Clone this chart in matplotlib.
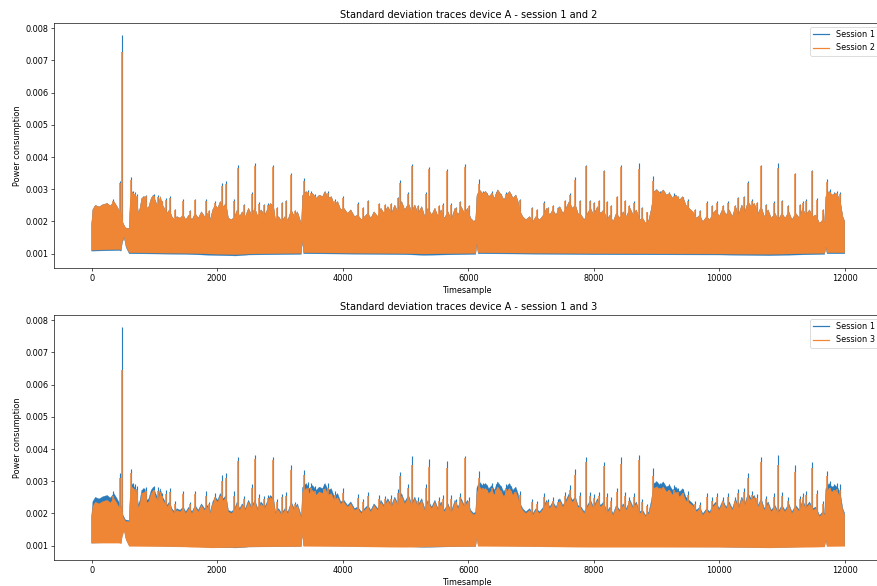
import numpy as np
import matplotlib
matplotlib.use("Agg")
import matplotlib.pyplot as plt

# ---------------- data ----------------
TITLES = ["Standard deviation traces device A - session 1 and 2",
          "Standard deviation traces device A - session 1 and 3"]
LABELS = [["Session 1", "Session 2"], ["Session 1", "Session 3"]]
XTICKS = [0, 2000, 4000, 6000, 8000, 10000, 12000]
YTICKS = [0.001, 0.002, 0.003, 0.004, 0.005, 0.006, 0.007, 0.008]

# jagged upper profile of the dense trace (timesample, value)
PROF_T = [0, 20, 60, 120, 180, 250, 300, 355, 400, 430,
          470, 500, 540, 600, 615, 640, 680, 720, 745, 770,
          800, 850, 880, 910, 950, 985, 1020, 1060, 1095, 1130,
          1160, 1200, 1240, 1280, 1320, 1360, 1410, 1460, 1500, 1550,
          1600, 1650, 1700, 1750, 1800, 1850, 1890, 1930, 1970, 2010,
          2050, 2100, 2140, 2180, 2230, 2280, 2320, 2360, 2400, 2450,
          2500, 2550, 2600, 2650, 2700, 2760, 2810, 2850, 2900, 2930,
          2980, 3030, 3080, 3130, 3180, 3230, 3280, 3330, 3345, 3360,
          3420, 3470, 3520, 3580, 3630, 3680, 3720, 3770, 3820, 3870,
          3920, 3970, 4020, 4080, 4130, 4190, 4240, 4300, 4350, 4400,
          4450, 4500, 4560, 4610, 4660, 4720, 4780, 4830, 4880, 4940,
          4990, 5050, 5100, 5150, 5200, 5260, 5310, 5360, 5420, 5470,
          5520, 5570, 5620, 5680, 5730, 5790, 5840, 5890, 5940, 5990,
          6040, 6090, 6120, 6140, 6180, 6230, 6280, 6330, 6380, 6420,
          6470, 6530, 6570, 6610, 6660, 6715, 6760, 6795, 6830, 6870,
          6920, 6980, 7030, 7080, 7140, 7200, 7250, 7300, 7350, 7400,
          7460, 7510, 7560, 7610, 7660, 7710, 7750, 7800, 7850, 7900,
          7950, 8000, 8060, 8110, 8160, 8210, 8260, 8310, 8360, 8420,
          8470, 8520, 8580, 8630, 8680, 8730, 8780, 8830, 8880, 8920,
          8960, 9010, 9060, 9110, 9160, 9210, 9260, 9310, 9370, 9420,
          9470, 9520, 9580, 9640, 9690, 9740, 9800, 9850, 9900, 9950,
          10000, 10060, 10110, 10160, 10210, 10260, 10310, 10360, 10410, 10460,
          10510, 10560, 10620, 10670, 10720, 10780, 10830, 10890, 10940, 11000,
          11050, 11110, 11160, 11220, 11280, 11330, 11380, 11440, 11490, 11540,
          11600, 11650, 11680, 11700, 11750, 11800, 11850, 11900, 11940, 11970,
          12000]
S1_PROF = [.00190, .00237, .00250, .00245, .00252, .00256, .00248, .00262, .00248, .00237,
           .00225, .00195, .00180, .00178, .00260, .00293, .00282, .00272, .00225, .00240,
           .00272, .00277, .00241, .00245, .00272, .00282, .00262, .00246, .00277, .00251,
           .00241, .00225, .00236, .00215, .00205, .00215, .00210, .00220, .00205, .00220,
           .00205, .00225, .00210, .00230, .00215, .00225, .00205, .00236, .00251, .00241,
           .00262, .00246, .00256, .00210, .00205, .00215, .00236, .00215, .00230, .00215,
           .00241, .00220, .00241, .00215, .00236, .00220, .00241, .00256, .00246, .00205,
           .00215, .00200, .00215, .00205, .00236, .00215, .00230, .00200, .00190, .00280,
           .00293, .00277, .00287, .00272, .00282, .00277, .00293, .00272, .00277, .00251,
           .00262, .00236, .00241, .00225, .00236, .00215, .00220, .00205, .00215, .00225,
           .00210, .00230, .00215, .00241, .00225, .00246, .00225, .00251, .00230, .00262,
           .00236, .00256, .00230, .00251, .00225, .00246, .00215, .00241, .00220, .00241,
           .00215, .00236, .00210, .00230, .00205, .00241, .00220, .00246, .00225, .00241,
           .00210, .00200, .00205, .00280, .00298, .00287, .00293, .00277, .00287, .00272,
           .00298, .00282, .00267, .00282, .00293, .00272, .00282, .00262, .00230, .00215,
           .00205, .00215, .00199, .00215, .00205, .00220, .00241, .00220, .00236, .00220,
           .00246, .00225, .00241, .00262, .00241, .00251, .00225, .00220, .00205, .00225,
           .00241, .00220, .00246, .00225, .00236, .00205, .00220, .00199, .00225, .00210,
           .00230, .00215, .00241, .00220, .00236, .00205, .00210, .00194, .00205, .00240,
           .00293, .00298, .00287, .00298, .00282, .00287, .00272, .00282, .00267, .00277,
           .00251, .00241, .00230, .00210, .00220, .00199, .00215, .00205, .00225, .00236,
           .00215, .00241, .00220, .00236, .00215, .00246, .00220, .00251, .00230, .00262,
           .00246, .00256, .00225, .00246, .00215, .00236, .00210, .00225, .00205, .00225,
           .00210, .00230, .00205, .00225, .00210, .00241, .00220, .00236, .00215, .00220,
           .00194, .00205, .00200, .00277, .00293, .00282, .00287, .00277, .00251, .00215,
           .00200]
S2_PROF = S1_PROF  # session 2 follows session 1 at this scale
S3_PROF = [.00188, .00222, .00235, .00230, .00237, .00241, .00233, .00247, .00233, .00222,
           .00215, .00190, .00176, .00174, .00250, .00283, .00272, .00262, .00218, .00230,
           .00262, .00267, .00233, .00236, .00262, .00272, .00252, .00238, .00267, .00243,
           .00235, .00220, .00230, .00210, .00200, .00210, .00205, .00215, .00200, .00215,
           .00200, .00220, .00205, .00225, .00210, .00220, .00200, .00230, .00245, .00235,
           .00255, .00240, .00250, .00205, .00200, .00210, .00230, .00210, .00225, .00210,
           .00235, .00215, .00235, .00210, .00230, .00215, .00235, .00250, .00240, .00200,
           .00210, .00195, .00210, .00200, .00230, .00210, .00225, .00195, .00186, .00265,
           .00278, .00262, .00272, .00257, .00267, .00262, .00278, .00257, .00262, .00240,
           .00250, .00230, .00235, .00220, .00230, .00210, .00215, .00200, .00210, .00220,
           .00205, .00225, .00210, .00235, .00220, .00240, .00220, .00245, .00225, .00255,
           .00230, .00250, .00225, .00245, .00220, .00240, .00210, .00235, .00215, .00235,
           .00210, .00230, .00205, .00225, .00200, .00235, .00215, .00240, .00220, .00235,
           .00205, .00195, .00200, .00265, .00283, .00272, .00278, .00262, .00272, .00257,
           .00283, .00267, .00252, .00267, .00278, .00257, .00267, .00250, .00224, .00210,
           .00200, .00210, .00194, .00210, .00200, .00215, .00235, .00215, .00230, .00215,
           .00240, .00220, .00235, .00255, .00235, .00245, .00220, .00215, .00200, .00220,
           .00235, .00215, .00240, .00220, .00230, .00200, .00215, .00194, .00220, .00205,
           .00225, .00210, .00235, .00215, .00230, .00200, .00205, .00190, .00200, .00230,
           .00278, .00283, .00272, .00283, .00267, .00272, .00257, .00267, .00252, .00262,
           .00240, .00233, .00224, .00205, .00215, .00194, .00210, .00200, .00220, .00230,
           .00210, .00235, .00215, .00230, .00210, .00240, .00215, .00245, .00225, .00255,
           .00240, .00250, .00220, .00240, .00210, .00230, .00205, .00220, .00200, .00220,
           .00205, .00225, .00200, .00220, .00205, .00235, .00215, .00230, .00210, .00215,
           .00190, .00200, .00195, .00262, .00278, .00267, .00272, .00262, .00240, .00210,
           .00195]

# lower edge of the trace (timesample, value)
LOW_T = [0, 440, 470, 490, 520, 550, 600, 1500, 1900, 2300,
         2500, 3340, 3360, 3380, 5000, 5300, 6120, 6140, 6160, 8000,
         10000, 10800, 11680, 11700, 11720, 12000]
S1_LOW = [0.00108, 0.00110, 0.00108, 0.00135, 0.00150, 0.00120, 0.00100, 0.00098, 0.00095, 0.00093,
          0.00096, 0.00098, 0.00140, 0.00100, 0.00097, 0.00095, 0.00098, 0.00130, 0.00100, 0.00097,
          0.00096, 0.00094, 0.00098, 0.00120, 0.00100, 0.00100]
S2_LOW = [0.00111, 0.00113, 0.00111, 0.00138, 0.00152, 0.00123, 0.00103, 0.00101, 0.00099, 0.00097,
          0.00099, 0.00101, 0.00142, 0.00103, 0.00100, 0.00099, 0.00101, 0.00132, 0.00103, 0.00100,
          0.00099, 0.00098, 0.00101, 0.00122, 0.00103, 0.00103]
S3_LOW = [0.00108, 0.00108, 0.00106, 0.00130, 0.00145, 0.00118, 0.00098, 0.00096, 0.00093, 0.00094,
          0.00096, 0.00097, 0.00135, 0.00098, 0.00095, 0.00096, 0.00097, 0.00125, 0.00098, 0.00095,
          0.00095, 0.00093, 0.00096, 0.00118, 0.00097, 0.00098]

# individual spikes rising above the dense part
SPIKE_T = [345, 450, 478, 627, 660, 690, 720, 820, 870, 1000,
           1050, 1120, 1180, 1250, 1330, 1450, 1570, 1640, 1815, 1870,
           1960, 2070, 2140, 2268, 2326, 2420, 2550, 2603, 2665, 2740,
           2815, 2895, 2950, 3030, 3100, 3170, 3240, 3390, 3440, 3500,
           3560, 3640, 3700, 3760, 3880, 4010, 4240, 4330, 4410, 4585,
           4680, 4770, 4830, 4875, 4913, 5046, 5104, 5200, 5322, 5380,
           5470, 5530, 5600, 5656, 5720, 5800, 5870, 5943, 6020, 6170,
           6230, 6300, 6380, 6450, 6520, 6600, 6680, 6750, 6825, 7010,
           7100, 7200, 7275, 7350, 7435, 7540, 7620, 7700, 7780, 7875,
           7940, 8010, 8090, 8165, 8205, 8280, 8365, 8435, 8500, 8570,
           8640, 8720, 8765, 8850, 8940, 8990, 9050, 9120, 9200, 9280,
           9340, 9420, 9500, 9620, 9700, 9800, 9880, 9960, 10060, 10145,
           10250, 10305, 10400, 10465, 10530, 10600, 10660, 10750, 10870, 10930,
           10995, 11100, 11205, 11285, 11340, 11390, 11480, 11550, 11650, 11725,
           11770, 11830, 11880, 11925]
S1_SPIKE = [.00270, .00326, .00780, .00339, .00295, .00290, .00285, .00280, .00282, .00284,
            .00282, .00265, .00272, .00278, .00240, .00270, .00235, .00270, .00270, .00236,
            .00262, .00318, .00325, .00270, .00374, .00255, .00290, .00382, .00260, .00255,
            .00257, .00376, .00245, .00260, .00267, .00350, .00236, .00334, .00298, .00295,
            .00285, .00280, .00290, .00295, .00270, .00278, .00260, .00245, .00267, .00258,
            .00255, .00258, .00240, .00277, .00329, .00290, .00379, .00250, .00290, .00370,
            .00226, .00250, .00257, .00363, .00257, .00245, .00265, .00378, .00250, .00332,
            .00295, .00288, .00295, .00290, .00285, .00290, .00285, .00280, .00270, .00246,
            .00240, .00262, .00246, .00250, .00246, .00267, .00287, .00337, .00267, .00376,
            .00267, .00260, .00267, .00360, .00265, .00250, .00280, .00375, .00267, .00250,
            .00262, .00380, .00246, .00230, .00340, .00300, .00295, .00285, .00290, .00287,
            .00280, .00275, .00270, .00240, .00235, .00262, .00250, .00262, .00250, .00262,
            .00250, .00277, .00280, .00325, .00270, .00260, .00376, .00255, .00262, .00382,
            .00267, .00250, .00352, .00255, .00262, .00270, .00360, .00272, .00240, .00333,
            .00300, .00290, .00295, .00290]
S2_SPIKE = [.00265, .00320, .00727, .00330, .00288, .00285, .00280, .00272, .00278, .00278,
            .00276, .00262, .00266, .00274, .00236, .00265, .00232, .00266, .00262, .00233,
            .00258, .00310, .00315, .00262, .00365, .00252, .00284, .00372, .00255, .00252,
            .00252, .00368, .00242, .00256, .00262, .00345, .00233, .00325, .00290, .00288,
            .00280, .00275, .00284, .00288, .00265, .00272, .00255, .00242, .00262, .00254,
            .00252, .00253, .00237, .00272, .00320, .00285, .00372, .00247, .00285, .00362,
            .00224, .00247, .00252, .00357, .00252, .00242, .00260, .00368, .00247, .00315,
            .00288, .00282, .00288, .00284, .00280, .00284, .00280, .00275, .00266, .00243,
            .00237, .00258, .00243, .00247, .00243, .00262, .00282, .00330, .00262, .00372,
            .00262, .00256, .00262, .00357, .00260, .00247, .00275, .00370, .00262, .00247,
            .00258, .00362, .00243, .00228, .00325, .00290, .00288, .00278, .00282, .00280,
            .00275, .00270, .00265, .00237, .00232, .00258, .00247, .00258, .00247, .00258,
            .00247, .00272, .00275, .00318, .00265, .00256, .00372, .00252, .00258, .00365,
            .00262, .00247, .00348, .00252, .00258, .00265, .00357, .00267, .00237, .00322,
            .00292, .00284, .00288, .00284]
S3_SPIKE = [.00255, .00310, .00644, .00325, .00280, .00275, .00272, .00265, .00270, .00272,
            .00270, .00255, .00260, .00268, .00230, .00260, .00228, .00260, .00255, .00228,
            .00250, .00300, .00310, .00255, .00362, .00245, .00278, .00368, .00248, .00245,
            .00247, .00366, .00236, .00250, .00255, .00335, .00228, .00320, .00280, .00278,
            .00270, .00265, .00275, .00278, .00258, .00265, .00248, .00236, .00255, .00246,
            .00245, .00246, .00230, .00265, .00315, .00278, .00350, .00240, .00278, .00345,
            .00218, .00240, .00245, .00340, .00245, .00235, .00252, .00372, .00240, .00310,
            .00278, .00272, .00278, .00274, .00270, .00275, .00270, .00266, .00258, .00236,
            .00230, .00250, .00236, .00240, .00236, .00255, .00274, .00320, .00255, .00360,
            .00255, .00248, .00255, .00348, .00252, .00240, .00266, .00355, .00255, .00240,
            .00250, .00365, .00236, .00222, .00315, .00280, .00278, .00270, .00274, .00272,
            .00266, .00262, .00258, .00230, .00226, .00250, .00240, .00250, .00240, .00250,
            .00240, .00264, .00268, .00310, .00258, .00248, .00360, .00245, .00250, .00350,
            .00255, .00240, .00330, .00245, .00250, .00258, .00340, .00260, .00230, .00315,
            .00280, .00272, .00276, .00272]

# ---------------- styling ----------------
BLUE = "#2b7bba"
ORANGE = "#ef8636"
DPI = 58.47
SPIKE_BASE = 0.0016

fig = plt.figure(figsize=(877 / DPI, 586 / DPI), dpi=DPI)
ax1 = fig.add_axes([54 / 877, 1 - 268 / 586, 828.4 / 877, 245 / 586])
ax2 = fig.add_axes([54 / 877, 1 - 560 / 586, 828.4 / 877, 245 / 586])


def draw_series(ax, prof, low, spikes, color, label, z, spike_lw):
    xs = list(PROF_T) + list(LOW_T[::-1])
    ys = list(prof) + list(low[::-1])
    ax.fill(xs, ys, facecolor=color, edgecolor=color, lw=0.4, zorder=z)
    ax.vlines(SPIKE_T, SPIKE_BASE, spikes, color=color, lw=spike_lw, zorder=z + 0.1)
    ax.plot([], [], color=color, lw=1.5, label=label)


panels = [(ax1, S2_PROF, S2_LOW, S2_SPIKE, 0),
          (ax2, S3_PROF, S3_LOW, S3_SPIKE, 1)]
for ax, prof2, low2, spk2, i in panels:
    draw_series(ax, S1_PROF, S1_LOW, S1_SPIKE, BLUE, LABELS[i][0], 2, 1.4)
    draw_series(ax, prof2, low2, spk2, ORANGE, LABELS[i][1], 3, 2.0)
    ax.set_xlim(-600, 12600)
    ax.set_ylim(0.000556, 0.00816)
    ax.set_xticks(XTICKS)
    ax.set_yticks(YTICKS)
    ax.set_title(TITLES[i])
    ax.set_xlabel("Timesample")
    ax.set_ylabel("Power consumption")
    ax.legend(loc="upper right")

fig.savefig("out.png", dpi=DPI)
